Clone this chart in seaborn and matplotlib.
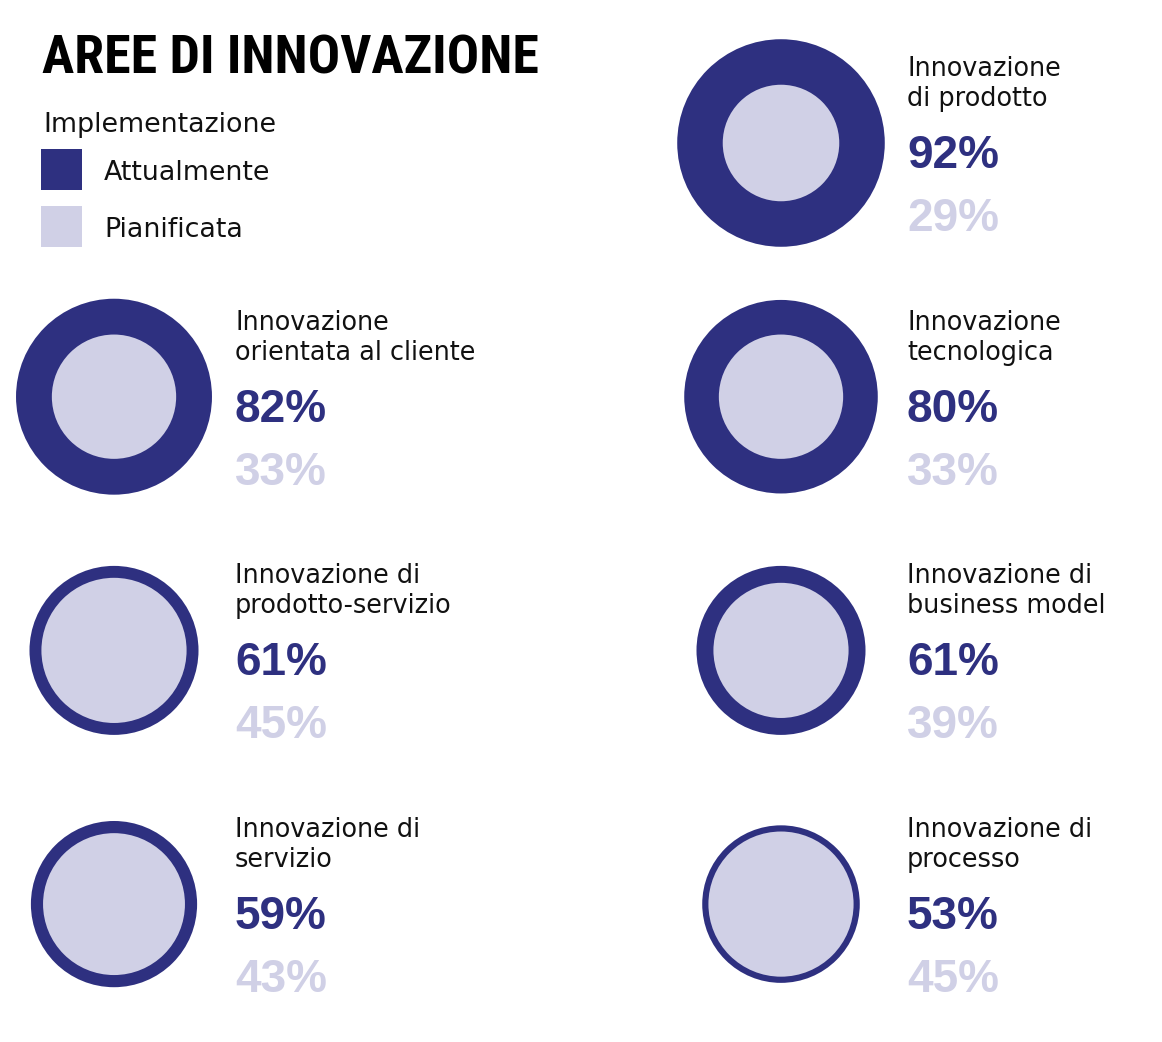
import numpy as np
import pandas as pd
import seaborn as sns
import matplotlib
matplotlib.use("Agg")
import matplotlib.pyplot as plt
from matplotlib import font_manager
from matplotlib.patches import Rectangle

areas = ["Innovazione\ndi prodotto",
         "Innovazione\norientata al cliente",
         "Innovazione\ntecnologica",
         "Innovazione di\nprodotto-servizio",
         "Innovazione di\nbusiness model",
         "Innovazione di\nservizio",
         "Innovazione di\nprocesso"]
attualmente = [92, 82, 80, 61, 61, 59, 53]
pianificata = [29, 33, 33, 45, 39, 43, 45]

title = "AREE DI INNOVAZIONE"
legend_title = "Implementazione"
legend_labels = ["Attualmente", "Pianificata"]

DARK = "#2E3080"
LIGHT = "#D0D0E6"

sns.set_theme(style="white")
plt.rcParams["font.family"] = ["DejaVu Sans"]

installed = {f.name for f in font_manager.fontManager.ttflist}
narrow = next((f for f in ["Liberation Sans Narrow", "Roboto Condensed", "Liberation Sans"] if f in installed), "DejaVu Sans")
bold_num = "Liberation Sans" if "Liberation Sans" in installed else "DejaVu Sans"

# layout: 2 columns x 4 rows, first cell kept for title + legend
col_x = [114, 781]
text_x = [235, 907]
row_y0, row_dy = 143, 253.7

df = pd.DataFrame({"area": areas, "att": attualmente, "pia": pianificata})
cell = np.arange(len(df)) + 1
df["col"] = cell % 2
df["row"] = cell // 2
df["x"] = [col_x[c] for c in df["col"]]
df["y"] = row_y0 + df["row"] * row_dy

# circle area proportional to the percentage (radius ~10.82 px * sqrt(%))
dpi = 100
k = 10.82
s_max = (2 * k * 72 / dpi) ** 2 * 100

fig = plt.figure(figsize=(11.62, 10.42), dpi=dpi)
ax = fig.add_axes([0, 0, 1, 1])
sns.scatterplot(data=df, x="x", y="y", size="att", sizes=(0, s_max), size_norm=(0, 100),
                color=DARK, linewidth=0, edgecolor="none", legend=False, ax=ax, zorder=2)
sns.scatterplot(data=df, x="x", y="y", size="pia", sizes=(0, s_max), size_norm=(0, 100),
                color=LIGHT, linewidth=0, edgecolor="none", legend=False, ax=ax, zorder=3)

for _, r in df.iterrows():
    tx = text_x[r["col"]]
    for j, line in enumerate(r["area"].split("\n")):
        ax.text(tx, r["y"] - 67 + j * 30, line, fontsize=18.4, color="#111111", va="baseline", ha="left")
    ax.text(tx, r["y"] + 25, f"{r['att']}%", fontsize=33, fontweight="bold", family=bold_num,
            color=DARK, va="baseline", ha="left")
    ax.text(tx, r["y"] + 88, f"{r['pia']}%", fontsize=33, fontweight="bold", family=bold_num,
            color=LIGHT, va="baseline", ha="left")

# title and legend
ax.text(42, 74, title, fontsize=38.8, fontweight="bold", family=narrow, color="#000000",
        va="baseline", ha="left")
ax.text(43, 132, legend_title, fontsize=19.4, color="#111111", va="baseline", ha="left")
for i, (lab, c) in enumerate(zip(legend_labels, [DARK, LIGHT])):
    ax.add_patch(Rectangle((41, 149 + i * 57), 41, 41, color=c, lw=0))
    ax.text(104, 180 + i * 57, lab, fontsize=19.4, color="#111111", va="baseline", ha="left")

ax.set_xlim(0, 1162)
ax.set_ylim(1042, 0)
ax.set_aspect("equal")
ax.axis("off")

fig.savefig("out.png", dpi=dpi, facecolor="white")
